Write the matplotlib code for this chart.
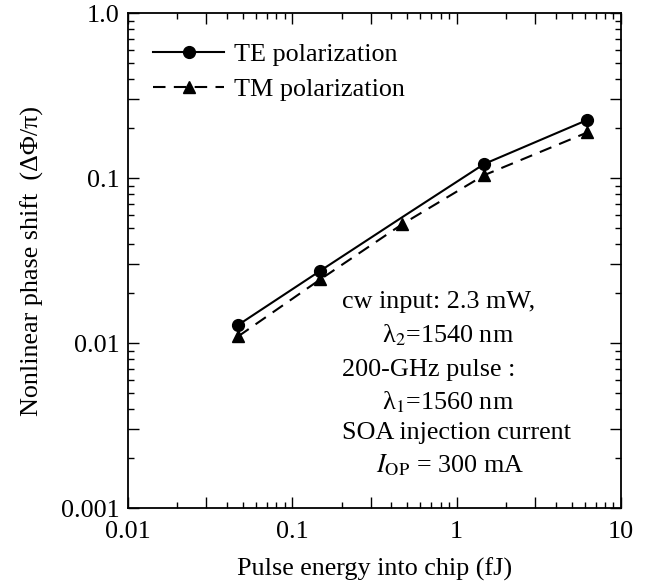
import matplotlib
matplotlib.use("Agg")
import matplotlib.pyplot as plt
from matplotlib.ticker import LogLocator, NullFormatter

# data
energy_fj = [0.047, 0.148, 0.468, 1.47, 6.25]
te_shift = [0.0129, 0.0274, 0.058, 0.1216, 0.225]
tm_shift = [0.0110, 0.0243, 0.0526, 0.104, 0.189]

x_ticks = [0.01, 0.1, 1, 10]
x_ticklabels = ["0.01", "0.1", "1", "10"]
y_ticks = [0.001, 0.01, 0.1, 1.0]
y_ticklabels = ["0.001", "0.01", "0.1", "1.0"]

notes = [
    ("cw input: 2.3 mW,", 0.435, 0.416),
    ("\u03bb$_2$=1540 nm", 0.515, 0.349),
    ("200-GHz pulse :", 0.435, 0.279),
    ("\u03bb$_1$=1560 nm", 0.515, 0.214),
    ("SOA injection current", 0.435, 0.152),
    (r"$I_{\rm OP}$ = 300 mA", 0.503, 0.087),
]

plt.rcParams["font.family"] = ["Liberation Serif", "DejaVu Serif"]
plt.rcParams["mathtext.fontset"] = "stix"
plt.rcParams["font.size"] = 18.8

fig = plt.figure(figsize=(6.54, 5.83), dpi=100)
ax = fig.add_axes([0.1957, 0.1286, 0.7538, 0.8491])

ax.plot(energy_fj, te_shift, color="black", lw=1.5, marker="o", ms=8.5,
        markevery=[0, 1, 3, 4], label="TE polarization")
ax.plot(energy_fj, tm_shift, color="black", lw=1.5, ls=(0, (6, 4)), marker="^",
        ms=9, label="TM polarization")

ax.set_xscale("log")
ax.set_yscale("log")
ax.set_xlim(0.01, 10)
ax.set_ylim(0.001, 1.0)

def fmt(val, ticks, labels):
    for t, l in zip(ticks, labels):
        if abs(val - t) / t < 1e-6:
            return l
    return ""

for axis, ticks, labels in ((ax.xaxis, x_ticks, x_ticklabels), (ax.yaxis, y_ticks, y_ticklabels)):
    # long ticks at 1 and 3 of every decade, short ones elsewhere
    axis.set_major_locator(LogLocator(base=10, subs=(1.0, 3.0)))
    axis.set_minor_locator(LogLocator(base=10, subs=(2, 4, 5, 6, 7, 8, 9)))
    axis.set_minor_formatter(NullFormatter())
    axis.set_major_formatter(plt.FuncFormatter(lambda v, p, t=ticks, l=labels: fmt(v, t, l)))

ax.tick_params(which="both", direction="in", top=True, right=True, width=1.0)
ax.tick_params(which="major", length=8)
ax.tick_params(which="minor", length=4)
ax.tick_params(axis="x", which="major", pad=9)
ax.tick_params(axis="y", which="major", pad=6)
for s in ax.spines.values():
    s.set_linewidth(1.3)

ax.set_xlabel("Pulse energy into chip (fJ)", labelpad=11)
ax.set_ylabel("Nonlinear phase shift  (\u0394\u03a6/\u03c0)", labelpad=12)

ax.legend(loc="upper left", bbox_to_anchor=(0.051, 0.94), frameon=False,
          handlelength=2.73, handletextpad=0.38, labelspacing=0.45,
          borderpad=0, borderaxespad=0)

for txt, x, y in notes:
    ax.text(x, y, txt, transform=ax.transAxes, ha="left", va="center")

fig.savefig("out.png", dpi=100)
